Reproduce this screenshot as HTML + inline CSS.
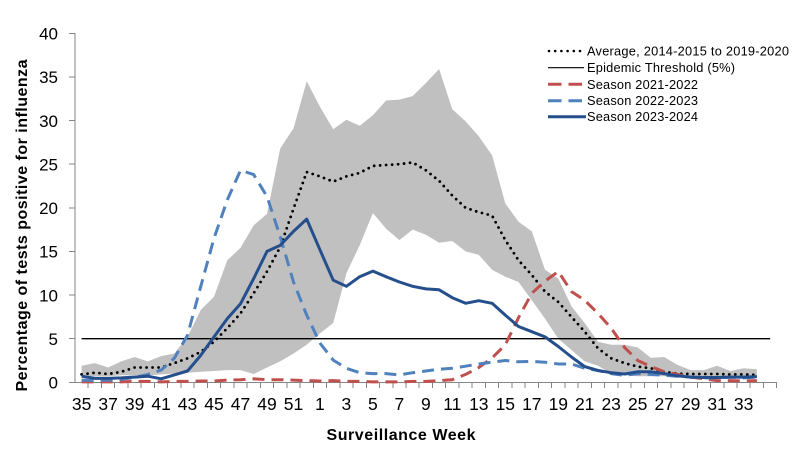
<!DOCTYPE html>
<html>
<head>
<meta charset="utf-8">
<style>
  html, body { margin: 0; padding: 0; background: #ffffff; }
  svg { display: block; }
  text { font-family: "Liberation Sans", Arial, sans-serif; fill: #000; }
</style>
</head>
<body>
<svg width="802" height="460" viewBox="0 0 802 460" xmlns="http://www.w3.org/2000/svg">
  <rect x="0" y="0" width="802" height="460" fill="#ffffff"/>

  <!-- grey band (min-max range) -->
  <polygon fill="#c0c0c0" stroke="none" points="81.6,365.7 94.9,363.1 108.1,367.5 121.3,361.4 134.6,357.0 147.8,361.4 161.1,356.1 174.3,353.5 187.5,336.9 200.8,309.9 214.0,296.8 227.3,260.2 240.5,247.9 253.7,225.3 267.0,213.9 280.2,148.5 293.5,128.4 306.7,81.3 319.9,106.6 333.2,129.3 346.4,119.7 359.7,125.8 372.9,115.3 386.1,100.5 399.4,99.6 412.6,96.1 425.9,83.0 439.1,69.1 452.3,109.2 465.6,121.4 478.8,136.3 492.1,155.4 505.3,203.4 518.5,221.8 531.8,231.4 545.0,269.7 558.3,278.5 571.5,306.4 584.7,323.0 598.0,341.7 611.2,344.8 624.5,344.8 637.7,347.4 650.9,357.9 664.2,357.0 677.4,364.9 690.7,370.1 703.9,370.1 717.1,365.7 730.4,371.0 743.6,368.3 756.9,369.2 756.9,376.2 743.6,376.2 730.4,376.2 717.1,376.2 703.9,376.2 690.7,376.2 677.4,376.2 664.2,376.2 650.9,376.2 637.7,376.2 624.5,375.3 611.2,373.6 598.0,365.7 584.7,361.4 571.5,350.0 558.3,338.7 545.0,318.6 531.8,300.3 518.5,282.0 505.3,276.7 492.1,269.7 478.8,254.9 465.6,251.4 452.3,241.0 439.1,242.7 425.9,234.8 412.6,229.6 399.4,240.1 386.1,228.7 372.9,213.0 359.7,245.3 346.4,273.2 333.2,323.0 319.9,333.4 306.7,344.8 293.5,353.5 280.2,361.4 267.0,367.5 253.7,374.0 240.5,370.1 227.3,370.1 214.0,371.0 200.8,371.8 187.5,372.7 174.3,373.6 161.1,374.4 147.8,375.3 134.6,375.3 121.3,375.3 108.1,376.2 94.9,376.2 81.6,376.2"/>

  <!-- axes -->
  <g stroke="#868686" stroke-width="1" fill="none" shape-rendering="crispEdges">
    <line x1="75" y1="33" x2="75" y2="382.5"/>
    <line x1="75" y1="382.5" x2="777" y2="382.5"/>
    <!-- y ticks -->
    <path d="M69 33.3H75 M69 76.9H75 M69 120.6H75 M69 164.2H75 M69 207.8H75 M69 251.4H75 M69 295.1H75 M69 338.7H75 M69 382.3H75"/>
    <!-- x ticks -->
    <path d="M88.2 382V388 M101.5 382V388 M114.7 382V388 M128.0 382V388 M141.2 382V388 M154.4 382V388 M167.7 382V388 M180.9 382V388 M194.2 382V388 M207.4 382V388 M220.6 382V388 M233.9 382V388 M247.1 382V388 M260.4 382V388 M273.6 382V388 M286.8 382V388 M300.1 382V388 M313.3 382V388 M326.6 382V388 M339.8 382V388 M353.0 382V388 M366.3 382V388 M379.5 382V388 M392.8 382V388 M406.0 382V388 M419.2 382V388 M432.5 382V388 M445.7 382V388 M459.0 382V388 M472.2 382V388 M485.4 382V388 M498.7 382V388 M511.9 382V388 M525.2 382V388 M538.4 382V388 M551.6 382V388 M564.9 382V388 M578.1 382V388 M591.4 382V388 M604.6 382V388 M617.8 382V388 M631.1 382V388 M644.3 382V388 M657.6 382V388 M670.8 382V388 M684.0 382V388 M697.3 382V388 M710.5 382V388 M723.8 382V388 M737.0 382V388 M750.2 382V388 M763.5 382V388 M776.7 382V388"/>
  </g>

  <!-- average dotted -->
  <polyline fill="none" stroke="#000000" stroke-width="2.8" stroke-linecap="round" stroke-dasharray="0 6" points="81.6,374.4 94.9,372.7 108.1,374.0 121.3,371.8 134.6,367.5 147.8,367.5 161.1,367.5 174.3,363.1 187.5,358.3 200.8,351.8 214.0,341.7 227.3,328.2 240.5,313.4 253.7,293.3 267.0,271.5 280.2,247.1 293.5,208.7 306.7,172.0 319.9,176.4 333.2,181.6 346.4,176.4 359.7,172.9 372.9,165.9 386.1,165.0 399.4,164.2 412.6,162.4 425.9,170.3 439.1,180.8 452.3,195.6 465.6,207.8 478.8,212.2 492.1,215.6 505.3,240.1 518.5,260.2 531.8,275.0 545.0,291.6 558.3,302.0 571.5,316.9 584.7,331.7 598.0,348.3 611.2,358.3 624.5,363.1 637.7,366.6 650.9,368.3 664.2,371.8 677.4,373.6 690.7,374.0 703.9,374.0 717.1,374.0 730.4,374.4 743.6,374.4 756.9,374.9"/>

  <!-- epidemic threshold -->
  <line x1="81.6" y1="338.7" x2="770.2" y2="338.7" stroke="#000000" stroke-width="1.3"/>

  <!-- season 2021-2022 red dashed -->
  <polyline fill="none" stroke="#c0504d" stroke-width="3" stroke-dasharray="12 7" stroke-linejoin="round" points="81.6,381.9 94.9,381.9 108.1,381.9 121.3,381.9 134.6,381.4 147.8,381.4 161.1,381.9 174.3,381.4 187.5,381.4 200.8,381.0 214.0,381.0 227.3,380.1 240.5,379.7 253.7,378.8 267.0,379.7 280.2,379.7 293.5,380.1 306.7,380.6 319.9,381.0 333.2,380.6 346.4,381.4 359.7,381.4 372.9,381.9 386.1,381.9 399.4,381.9 412.6,381.4 425.9,381.4 439.1,380.6 452.3,379.7 465.6,374.4 478.8,367.5 492.1,357.9 505.3,344.8 518.5,317.7 531.8,293.3 545.0,281.1 558.3,271.5 571.5,291.6 584.7,300.3 598.0,313.4 611.2,328.2 624.5,347.4 637.7,360.5 650.9,366.6 664.2,371.8 677.4,374.4 690.7,377.1 703.9,378.8 717.1,380.6 730.4,380.6 743.6,381.0 756.9,380.6"/>

  <!-- season 2022-2023 light blue dashed -->
  <polyline fill="none" stroke="#4f81bd" stroke-width="3" stroke-dasharray="12 7" stroke-linejoin="round" points="81.6,380.1 94.9,380.6 108.1,380.1 121.3,379.2 134.6,377.5 147.8,374.4 161.1,370.1 174.3,358.3 187.5,335.2 200.8,286.3 214.0,238.3 227.3,199.9 240.5,170.3 253.7,174.6 267.0,196.5 280.2,236.6 293.5,282.0 306.7,315.1 319.9,343.0 333.2,360.1 346.4,368.3 359.7,372.7 372.9,373.6 386.1,373.6 399.4,374.9 412.6,372.7 425.9,371.0 439.1,369.2 452.3,368.3 465.6,366.2 478.8,364.0 492.1,362.2 505.3,360.5 518.5,361.8 531.8,361.4 545.0,362.2 558.3,364.0 571.5,364.0 584.7,368.3 598.0,370.5 611.2,373.6 624.5,375.3 637.7,373.6 650.9,374.4 664.2,375.3 677.4,376.2 690.7,377.1 703.9,377.9 717.1,377.9 730.4,377.1 743.6,377.9 756.9,377.1"/>

  <!-- season 2023-2024 solid dark blue -->
  <polyline fill="none" stroke="#254f8c" stroke-width="3" stroke-linejoin="round" points="81.6,376.2 94.9,378.4 108.1,378.4 121.3,377.9 134.6,377.1 147.8,376.2 161.1,378.8 174.3,374.9 187.5,371.0 200.8,355.3 214.0,336.9 227.3,318.6 240.5,303.8 253.7,278.5 267.0,251.4 280.2,245.3 293.5,231.4 306.7,219.1 319.9,249.7 333.2,280.2 346.4,286.3 359.7,276.7 372.9,271.1 386.1,276.7 399.4,282.0 412.6,286.3 425.9,288.9 439.1,289.8 452.3,297.7 465.6,303.3 478.8,300.7 492.1,303.3 505.3,315.1 518.5,326.5 531.8,331.7 545.0,336.9 558.3,346.5 571.5,357.0 584.7,366.6 598.0,370.5 611.2,372.7 624.5,374.0 637.7,371.8 650.9,371.8 664.2,373.6 677.4,375.8 690.7,377.1 703.9,377.5 717.1,377.5 730.4,377.1 743.6,377.1 756.9,376.6"/>

  <!-- y tick labels -->
  <g font-size="17" text-anchor="end">
    <text x="58" y="39.5">40</text>
    <text x="58" y="83.1">35</text>
    <text x="58" y="126.8">30</text>
    <text x="58" y="170.4">25</text>
    <text x="58" y="214.0">20</text>
    <text x="58" y="257.6">15</text>
    <text x="58" y="301.3">10</text>
    <text x="58" y="344.9">5</text>
    <text x="58" y="388.5">0</text>
  </g>

  <!-- x tick labels -->
  <g font-size="17.5" text-anchor="middle">
    <text x="81.6" y="410">35</text>
    <text x="108.1" y="410">37</text>
    <text x="134.6" y="410">39</text>
    <text x="161.1" y="410">41</text>
    <text x="187.5" y="410">43</text>
    <text x="214.0" y="410">45</text>
    <text x="240.5" y="410">47</text>
    <text x="267.0" y="410">49</text>
    <text x="293.5" y="410">51</text>
    <text x="319.9" y="410">1</text>
    <text x="346.4" y="410">3</text>
    <text x="372.9" y="410">5</text>
    <text x="399.4" y="410">7</text>
    <text x="425.9" y="410">9</text>
    <text x="452.3" y="410">11</text>
    <text x="478.8" y="410">13</text>
    <text x="505.3" y="410">15</text>
    <text x="531.8" y="410">17</text>
    <text x="558.3" y="410">19</text>
    <text x="584.7" y="410">21</text>
    <text x="611.2" y="410">23</text>
    <text x="637.7" y="410">25</text>
    <text x="664.2" y="410">27</text>
    <text x="690.7" y="410">29</text>
    <text x="717.1" y="410">31</text>
    <text x="743.6" y="410">33</text>
  </g>

  <!-- axis titles -->
  <text x="326.5" y="440" font-size="16" font-weight="bold" textLength="149" lengthAdjust="spacing">Surveillance  Week</text>
  <text transform="translate(27,391.5) rotate(-90)" font-size="16" font-weight="bold" textLength="332" lengthAdjust="spacing">Percentage  of tests positive  for influenza</text>

  <!-- legend -->
  <g>
    <line x1="549" y1="51" x2="581" y2="51" stroke="#000" stroke-width="2.6" stroke-linecap="round" stroke-dasharray="0 6.2"/>
    <text x="587" y="55.5" font-size="12.8" textLength="202" lengthAdjust="spacing">Average, 2014-2015 to 2019-2020</text>

    <line x1="548" y1="67.7" x2="584" y2="67.7" stroke="#000" stroke-width="1.2"/>
    <text x="587" y="72.2" font-size="12.8" textLength="148" lengthAdjust="spacing">Epidemic Threshold (5%)</text>

    <line x1="548" y1="84.3" x2="584" y2="84.3" stroke="#c0504d" stroke-width="3" stroke-dasharray="13.5 7"/>
    <text x="587" y="88.8" font-size="12.8" textLength="111" lengthAdjust="spacing">Season 2021-2022</text>

    <line x1="548" y1="100.7" x2="584" y2="100.7" stroke="#4f81bd" stroke-width="3" stroke-dasharray="13.5 7"/>
    <text x="587" y="105.2" font-size="12.8" textLength="111" lengthAdjust="spacing">Season 2022-2023</text>

    <line x1="548" y1="116.7" x2="586" y2="116.7" stroke="#254f8c" stroke-width="3"/>
    <text x="587" y="121.2" font-size="12.8" textLength="111" lengthAdjust="spacing">Season 2023-2024</text>
  </g>
</svg>
</body>
</html>
